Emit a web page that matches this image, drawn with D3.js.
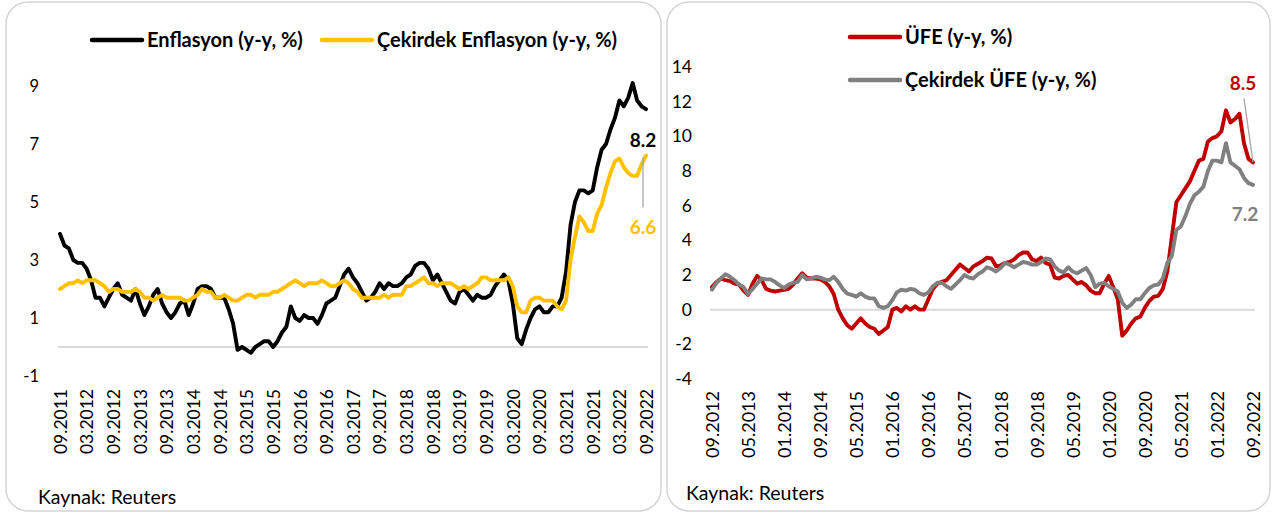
<!DOCTYPE html>
<html><head><meta charset="utf-8">
<script src="https://cdn.jsdelivr.net/npm/d3@7"></script>
<style>
html,body{margin:0;padding:0;background:#fff;}
svg{display:block;font-family:Lato,"Open Sans",sans-serif;}
</style></head><body>
<svg id="chart" width="1274" height="516"></svg>
<script>
// ---------- DATA ----------
// Left chart: monthly, 09.2011 .. 09.2022
const leftStart = "2011-09";
const enflasyon = [
 3.9,3.5,3.4,3.0,
 2.9,2.9,2.7,2.3,1.7,1.7,1.4,1.7,2.0,2.2,1.8,1.7,
 1.6,2.0,1.5,1.1,1.4,1.8,2.0,1.5,1.2,1.0,1.2,1.5,
 1.6,1.1,1.5,2.0,2.1,2.1,2.0,1.7,1.7,1.7,1.3,0.8,
 -0.1,0.0,-0.1,-0.2,0.0,0.1,0.2,0.2,0.0,0.2,0.5,0.7,
 1.4,1.0,0.9,1.1,1.0,1.0,0.8,1.1,1.5,1.6,1.7,2.1,
 2.5,2.7,2.4,2.2,1.9,1.6,1.7,1.9,2.2,2.0,2.2,2.1,
 2.1,2.2,2.4,2.5,2.8,2.9,2.9,2.7,2.3,2.5,2.2,1.9,
 1.6,1.5,1.9,2.0,1.8,1.6,1.8,1.7,1.7,1.8,2.1,2.3,
 2.5,2.3,1.5,0.3,0.1,0.6,1.0,1.3,1.4,1.2,1.2,1.4,
 1.4,1.7,2.6,4.2,5.0,5.4,5.4,5.3,5.4,6.2,6.8,7.0,
 7.5,7.9,8.5,8.3,8.6,9.1,8.5,8.3,8.2];
const cekirdekEnflasyon = [
 2.0,2.1,2.2,2.2,
 2.3,2.2,2.3,2.3,2.3,2.2,2.1,1.9,2.0,2.0,1.9,1.9,
 1.9,2.0,1.9,1.7,1.7,1.6,1.7,1.8,1.7,1.7,1.7,1.7,
 1.6,1.6,1.7,1.8,2.0,1.9,1.9,1.7,1.7,1.8,1.7,1.6,
 1.6,1.7,1.8,1.8,1.7,1.8,1.8,1.8,1.9,1.9,2.0,2.1,
 2.2,2.3,2.2,2.1,2.2,2.2,2.2,2.3,2.2,2.1,2.1,2.2,
 2.3,2.2,2.0,1.9,1.7,1.7,1.7,1.7,1.7,1.8,1.7,1.8,
 1.8,1.8,2.1,2.1,2.2,2.3,2.4,2.2,2.2,2.1,2.2,2.2,
 2.2,2.1,2.0,2.1,2.0,2.1,2.2,2.4,2.4,2.3,2.3,2.3,
 2.3,2.4,2.1,1.4,1.2,1.2,1.6,1.7,1.7,1.6,1.6,1.6,
 1.4,1.3,1.6,3.0,3.8,4.5,4.3,4.0,4.0,4.6,4.9,5.5,
 6.0,6.4,6.5,6.2,6.0,5.9,5.9,6.3,6.6];
const leftYTicks = [-1,1,3,5,7,9];
const leftXTickLabels = ["09.2011","03.2012","09.2012","03.2013","09.2013","03.2014","09.2014","03.2015","09.2015","03.2016","09.2016","03.2017","09.2017","03.2018","09.2018","03.2019","09.2019","03.2020","09.2020","03.2021","09.2021","03.2022","09.2022"];

// Right chart: monthly, 09.2012 .. 09.2022
const rightStart = "2012-09";
const ufe = [
 1.3,1.6,1.8,1.7,1.65,1.5,1.45,1.1,0.85,1.5,1.95,1.7,
 1.2,1.1,1.05,1.1,1.15,1.2,1.45,1.8,2.1,1.85,1.8,1.8,
 1.75,1.6,1.35,0.9,0.0,-0.5,-0.9,-1.1,-0.8,-0.5,-0.8,-1.0,
 -1.1,-1.4,-1.2,-1.0,0.0,0.1,-0.1,0.2,0.0,0.2,0.0,0.0,
 0.6,1.2,1.5,1.6,1.7,2.0,2.3,2.6,2.4,2.2,2.5,2.65,
 2.8,3.0,2.95,2.5,2.55,2.7,2.75,2.9,3.15,3.3,3.3,2.9,
 2.8,3.0,2.7,2.6,1.85,1.8,1.95,2.0,1.75,1.5,1.6,1.4,
 1.1,0.95,0.95,1.5,1.95,1.3,0.6,-1.5,-1.2,-0.8,-0.5,-0.4,
 0.1,0.5,0.75,0.8,1.2,2.2,4.2,6.2,6.6,7.0,7.4,8.0,
 8.6,8.7,9.7,9.9,10.0,10.3,11.5,10.8,11.0,11.3,9.6,8.7,8.5];
const cekirdekUfe = [
 1.15,1.55,1.8,2.05,1.9,1.7,1.45,1.3,0.9,1.2,1.5,1.8,
 1.75,1.75,1.6,1.4,1.25,1.45,1.55,1.6,2.0,1.75,1.8,1.9,
 1.85,1.75,1.7,1.9,1.6,1.2,0.93,0.85,0.75,0.95,0.75,0.65,
 0.65,0.2,0.1,0.2,0.55,1.0,1.15,1.1,1.2,1.15,0.95,0.85,
 1.0,1.35,1.55,1.55,1.35,1.2,1.45,1.7,2.0,1.85,1.8,2.05,
 2.2,2.45,2.35,2.2,2.4,2.7,2.6,2.45,2.6,2.75,2.7,2.6,
 2.6,2.75,2.95,2.9,2.5,2.25,2.15,2.45,2.2,2.1,2.25,2.4,
 2.0,1.3,1.5,1.55,1.35,1.2,1.05,0.4,0.1,0.3,0.6,0.6,
 0.95,1.25,1.4,1.45,1.8,2.7,3.1,4.6,4.8,5.4,6.1,6.6,
 6.8,7.1,8.0,8.6,8.6,8.5,9.6,8.5,8.3,8.1,7.6,7.3,7.2];
const rightYTicks = [-4,-2,0,2,4,6,8,10,12,14];
const rightXTickLabels = ["09.2012","05.2013","01.2014","09.2014","05.2015","01.2016","09.2016","05.2017","01.2018","09.2018","05.2019","01.2020","09.2020","05.2021","01.2022","09.2022"];

const leftLegend = ["Enflasyon (y-y, %)","Çekirdek Enflasyon (y-y, %)"];
const rightLegend = ["ÜFE (y-y, %)","Çekirdek ÜFE (y-y, %)"];
const sourceText = "Kaynak: Reuters";

// ---------- HELPERS ----------
const fmt = d3.timeFormat("%m.%Y");
function monthCats(start, n){
  const s = d3.timeParse("%Y-%m")(start);
  return d3.range(n).map(i => fmt(d3.timeMonth.offset(s, i)));
}
const svg = d3.select("#chart");

// panels
svg.append("rect").attr("x",6).attr("y",2).attr("width",655).attr("height",509)
  .attr("rx",22).attr("fill","#fff").attr("stroke","#d4d4d4").attr("stroke-width",1.5);
svg.append("rect").attr("x",667).attr("y",2).attr("width",603).attr("height",509)
  .attr("rx",22).attr("fill","#fff").attr("stroke","#d4d4d4").attr("stroke-width",1.5);

function drawChart(cfg){
  const g = svg.append("g");
  const cats = monthCats(cfg.start, cfg.series[0].values.length);
  const x = d3.scalePoint().domain(cats).range(cfg.xRange);
  const y = d3.scaleLinear().domain(cfg.yDomain).range(cfg.yRange);

  // zero line (category axis)
  g.append("line").attr("x1",cfg.xRange[0]-2).attr("x2",cfg.xRange[1]+2)
    .attr("y1",y(0)).attr("y2",y(0)).attr("stroke","#d9d9d9").attr("stroke-width",2);

  // y axis
  const ya = g.append("g").attr("transform",`translate(${cfg.yAxisX},0)`)
    .call(d3.axisLeft(y).tickValues(cfg.yTicks).tickSize(0).tickPadding(0).tickFormat(d=>String(d)));
  ya.select(".domain").remove();
  ya.selectAll("text").attr("font-size",cfg.yFont).attr("fill","#000").attr("font-family","Lato");

  // x axis
  const xa = g.append("g").attr("transform",`translate(0,${cfg.xAxisY})`)
    .call(d3.axisBottom(x).tickValues(cfg.xTicks).tickSize(0).tickPadding(0));
  xa.select(".domain").remove();
  xa.selectAll("text").attr("y",0).attr("x",0).attr("dy","0.36em")
    .attr("transform","rotate(-90)").style("text-anchor","end")
    .attr("font-size",cfg.xFont).attr("fill","#000").attr("font-family","Lato");

  // lines
  const line = d3.line().x((d,i)=>x(cats[i])).y(d=>y(d)).curve(d3.curveLinear);
  cfg.series.forEach(s=>{
    g.append("path").datum(s.values).attr("d",line).attr("fill","none")
      .attr("stroke",s.color).attr("stroke-width",3.9)
      .attr("stroke-linejoin","round").attr("stroke-linecap","round");
  });

  // legend
  cfg.legend.forEach(l=>{
    g.append("line").attr("x1",l.x).attr("x2",l.x+50).attr("y1",l.y).attr("y2",l.y)
      .attr("stroke",l.color).attr("stroke-width",4.5).attr("stroke-linecap","round");
    g.append("text").attr("x",l.x+55).attr("y",l.y).attr("dy","0.35em")
      .attr("font-size",20).attr("font-weight","bold").attr("fill","#000").text(l.text);
  });

  // end labels
  cfg.endLabels.forEach(e=>{
    const s = cfg.series[e.series];
    const last = s.values[s.values.length-1];
    const ex = x(cats[cats.length-1]), ey = y(last);
    g.append("line").attr("x1",ex+e.lx1).attr("y1",ey+e.ly1).attr("x2",ex+e.lx2).attr("y2",ey+e.ly2)
      .attr("stroke","#a6a6a6").attr("stroke-width",1.3);
    g.append("text").attr("x",ex+e.dx).attr("y",ey+e.dy).attr("text-anchor","middle")
      .attr("font-size",19).attr("font-weight","bold").attr("fill",e.color).text(d3.format(".1f")(last));
  });

  // source
  g.append("text").attr("x",cfg.src[0]).attr("y",cfg.src[1]).attr("font-size",19.5)
    .attr("fill","#000").text(sourceText);
}

const leftCats = monthCats(leftStart, enflasyon.length);
drawChart({
  start:leftStart,
  series:[{values:enflasyon,color:"#000000"},{values:cekirdekEnflasyon,color:"#FFC000"}],
  xRange:[60,646], yDomain:[-1,9], yRange:[376,86],
  yTicks:leftYTicks, yAxisX:39, yFont:16.5,
  xTicks:leftCats.filter(c=>leftXTickLabels.includes(c)), xAxisY:389, xFont:17.5,
  legend:[{x:92,y:40,color:"#000000",text:leftLegend[0]},{x:322,y:40,color:"#FFC000",text:leftLegend[1]}],
  endLabels:[
    {series:0,color:"#000000",dx:-3,dy:38,lx1:0,ly1:0,lx2:0,ly2:0},
    {series:1,color:"#FFC000",dx:-3,dy:78,lx1:-3,ly1:2,lx2:-3,ly2:52}
  ],
  src:[38,504]
});

const rightCats = monthCats(rightStart, ufe.length);
drawChart({
  start:rightStart,
  series:[{values:ufe,color:"#C00000"},{values:cekirdekUfe,color:"#808080"}],
  xRange:[712,1253], yDomain:[-4,14], yRange:[379,67],
  yTicks:rightYTicks, yAxisX:692, yFont:17.5,
  xTicks:rightCats.filter(c=>rightXTickLabels.includes(c)), xAxisY:391, xFont:18,
  legend:[{x:850,y:37,color:"#C00000",text:rightLegend[0]},{x:850,y:80,color:"#808080",text:rightLegend[1]}],
  endLabels:[
    {series:0,color:"#C00000",dx:-10,dy:-72,lx1:-9,ly1:-64,lx2:0,ly2:0},
    {series:1,color:"#808080",dx:-8,dy:36,lx1:0,ly1:0,lx2:0,ly2:0}
  ],
  src:[686,500]
});
</script>
</body></html>
